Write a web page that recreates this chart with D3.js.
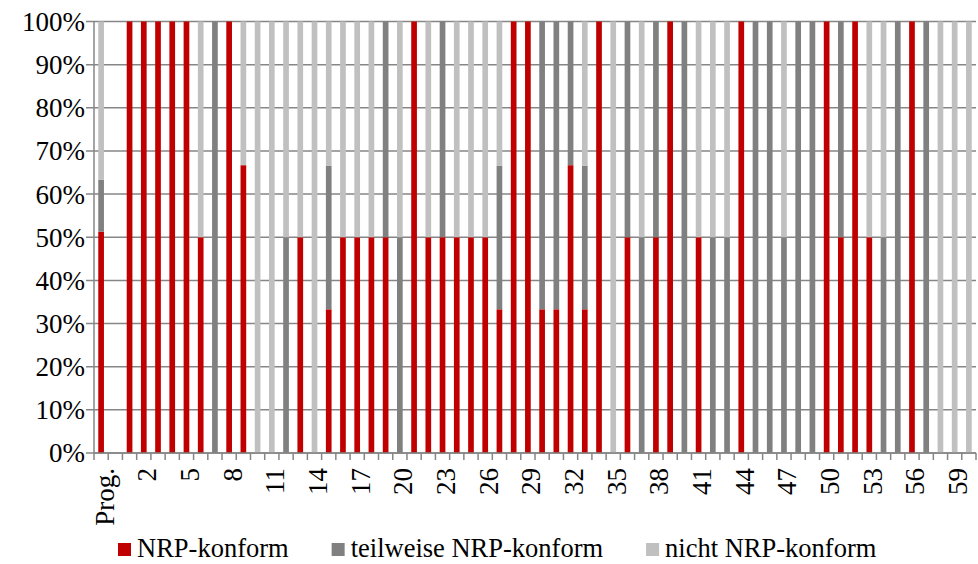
<!DOCTYPE html>
<html>
<head>
<meta charset="utf-8">
<script src="https://cdn.jsdelivr.net/npm/d3@7"></script>
<style>
  html, body { margin: 0; padding: 0; background: #fff; }
  svg { display: block; }
</style>
</head>
<body>
<svg id="chart" width="978" height="564"></svg>
<script>
// Categories: programme overall, a spacer slot, then projects 1–60
const categories = ["Prog.", "",
  "1","2","3","4","5","6","7","8","9","10",
  "11","12","13","14","15","16","17","18","19","20",
  "21","22","23","24","25","26","27","28","29","30",
  "31","32","33","34","35","36","37","38","39","40",
  "41","42","43","44","45","46","47","48","49","50",
  "51","52","53","54","55","56","57","58","59","60"];

// Shares in percent per category
const konform = [51.3, 0,
  100,100,100,100,100, 50,  0,100,66.7,  0,
    0,  0, 50,  0,33.3, 50, 50, 50, 50,  0,
  100, 50, 50, 50, 50, 50,33.3,100,100,33.3,
  33.3,66.7,33.3,100,  0, 50,  0, 50,100,  0,
   50,  0,  0,100,  0,  0,  0,  0,  0,100,
   50,100, 50,  0,  0,100,  0,  0,  0,  0];

const teilweise = [12.0, 0,
    0,  0,  0,  0,  0,  0,100,  0,  0,  0,
    0, 50,  0,  0,33.3,  0,  0,  0, 50, 50,
    0,  0, 50,  0,  0,  0,33.3,  0,  0,66.7,
  66.7,33.3,33.3,  0,  0, 50, 50, 50,  0,100,
    0, 50, 50,  0,100,100, 50,100,100,  0,
   50,  0,  0, 50,100,  0,100,  0,  0,  0];

const nicht = [36.7, 0,
    0,  0,  0,  0,  0, 50,  0,  0,33.3,100,
  100, 50, 50,100,33.4, 50, 50, 50,  0, 50,
    0, 50,  0, 50, 50, 50,33.4,  0,  0,  0,
    0,  0,33.4,  0,100,  0, 50,  0,  0,  0,
   50, 50, 50,  0,  0,  0, 50,  0,  0,  0,
    0,  0, 50, 50,  0,  0,  0,100,100,100];

const seriesNames = ["NRP-konform", "teilweise NRP-konform", "nicht NRP-konform"];
const seriesColors = ["#C00000", "#808080", "#C0C0C0"];
const yTicks = [0, 10, 20, 30, 40, 50, 60, 70, 80, 90, 100];

const rows = categories.map((c, i) => ({
  cat: c, i: i,
  konform: konform[i], teilweise: teilweise[i], nicht: nicht[i]
}));
const keys = ["konform", "teilweise", "nicht"];

const FONT = "'Liberation Serif', 'Times New Roman', Times, 'DejaVu Serif', serif";
const FONT_SIZE = "27px";
const LEGEND_FONT_SIZE = "26.5px";

const svg = d3.select("#chart")
  .attr("font-family", FONT)
  .style("font-family", FONT);

const plotLeft = 94, plotRight = 976, plotTop = 21.5, plotBottom = 453;

const x = d3.scaleBand()
  .domain(rows.map(d => d.i))
  .range([plotLeft, plotRight])
  .paddingInner(0.6)
  .paddingOuter(0.3);

// band scale without padding gives the category boundaries for the ticks
const xSlots = d3.scaleBand().domain(rows.map(d => d.i)).range([plotLeft, plotRight]);

const y = d3.scaleLinear().domain([0, 100]).range([plotBottom, plotTop]);

const gridColor = "#868686";

// horizontal gridlines (extend left past the axis as tick marks)
svg.append("g")
  .selectAll("line")
  .data(yTicks)
  .join("line")
  .attr("x1", plotLeft - 8).attr("x2", plotRight)
  .attr("y1", d => y(d)).attr("y2", d => y(d))
  .attr("stroke", gridColor)
  .attr("stroke-width", 1.5);

// y axis line
svg.append("line")
  .attr("x1", plotLeft).attr("x2", plotLeft)
  .attr("y1", plotTop).attr("y2", plotBottom + 7)
  .attr("stroke", gridColor).attr("stroke-width", 1.5);

// y labels
svg.append("g")
  .selectAll("text")
  .data(yTicks)
  .join("text")
  .attr("x", plotLeft - 9)
  .attr("y", d => y(d))
  .attr("dy", "0.35em")
  .attr("text-anchor", "end")
  .attr("font-family", FONT)
  .style("font-size", FONT_SIZE)
  .text(d => d + "%");

// stacked bars
const stack = d3.stack().keys(keys)(rows);
svg.append("g")
  .selectAll("g")
  .data(stack)
  .join("g")
  .attr("fill", (d, k) => seriesColors[k])
  .selectAll("rect")
  .data(d => d)
  .join("rect")
  .attr("x", d => x(d.data.i))
  .attr("width", x.bandwidth())
  .attr("y", d => y(d[1]))
  .attr("height", d => y(d[0]) - y(d[1]));

// x axis line and boundary ticks
svg.append("line")
  .attr("x1", plotLeft).attr("x2", plotRight)
  .attr("y1", plotBottom).attr("y2", plotBottom)
  .attr("stroke", gridColor).attr("stroke-width", 1.5);

const boundaries = rows.map(d => xSlots(d.i) + xSlots.bandwidth());
svg.append("g")
  .selectAll("line")
  .data(boundaries)
  .join("line")
  .attr("x1", d => d).attr("x2", d => d)
  .attr("y1", plotBottom).attr("y2", plotBottom + 7)
  .attr("stroke", gridColor).attr("stroke-width", 1.5);

// category labels, every third slot
svg.append("g")
  .selectAll("text")
  .data(rows.filter(d => d.i % 3 === 0))
  .join("text")
  .attr("transform", d => `translate(${xSlots(d.i) + xSlots.bandwidth() / 2 + 3},${plotBottom + 15}) rotate(-90)`)
  .attr("dy", "0.35em")
  .attr("text-anchor", "end")
  .attr("font-family", FONT)
  .style("font-size", FONT_SIZE)
  .text(d => d.cat);

// legend
const legend = svg.append("g");
let lx = 118;
seriesNames.forEach((name, k) => {
  legend.append("rect")
    .attr("x", lx).attr("y", 543)
    .attr("width", 13).attr("height", 13)
    .attr("fill", seriesColors[k]);
  const t = legend.append("text")
    .attr("x", lx + 19).attr("y", 556.5)
    .attr("font-family", FONT)
    .style("font-size", LEGEND_FONT_SIZE)
    .text(name);
  lx += 19 + t.node().getComputedTextLength() + 43;
});
</script>
</body>
</html>
